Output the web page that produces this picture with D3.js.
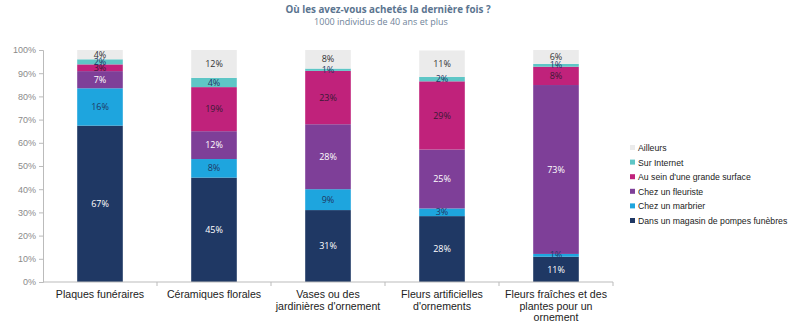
<!DOCTYPE html>
<html>
<head>
<meta charset="utf-8">
<script src="https://cdn.jsdelivr.net/npm/d3@7"></script>
<style>
  body { margin: 0; background: #fff; }
  svg { display: block; }
  .title { font-family: "Open Sans", sans-serif; font-weight: bold; font-size: 9.8px; fill: #5b7590; }
  .subtitle { font-family: "Open Sans", sans-serif; font-size: 9px; fill: #6f8499; }
  .tick text { font-family: "Liberation Sans", Arial, sans-serif; }
  .lbl { font-family: "Open Sans", sans-serif; font-size: 9px; }
  .cat { font-family: "Liberation Sans", Arial, sans-serif; font-size: 10.6px; fill: #222; }
  .legend text { font-family: "Liberation Sans", Arial, sans-serif; font-size: 8.7px; fill: #222; }
</style>
</head>
<body>
<div id="chart"></div>
<script>
// DATA
const categories = [
    ["Plaques funéraires"],
    ["Céramiques florales"],
    ["Vases ou des", "jardinières d'ornement"],
    ["Fleurs artificielles", "d'ornements"],
    ["Fleurs fraîches et des", "plantes pour un", "ornement"]
];
const seriesNames = [
    "Dans un magasin de pompes funèbres",
    "Chez un marbrier",
    "Chez un fleuriste",
    "Au sein d'une grande surface",
    "Sur Internet",
    "Ailleurs"
];
// one array per series, in category order (percent)
const pompes     = [67.4, 45.0, 31.0, 28.4, 10.9];
const marbrier   = [16.1,  8.0,  9.0,  3.3,  1.2];
const fleuriste  = [ 7.4, 12.0, 28.0, 25.4, 72.8];
const grandeSurf = [ 2.9, 19.0, 23.0, 29.4,  7.9];
const internet   = [ 2.2,  4.0,  1.0,  1.9,  1.2];
const ailleurs   = [ 4.0, 12.0,  8.0, 11.4,  6.0];
const yTicks = [0, 10, 20, 30, 40, 50, 60, 70, 80, 90, 100];

const colors = ["#1f3864", "#1ea5de", "#7e3f98", "#c0227b", "#5ec6c6", "#ebebeb"];
const textColors = ["#ffffff", "#1f3864", "#ffffff", "#3a1a35", "#1f3864", "#333333"];

// CHART SETUP
const width = 800, height = 332;
const margin = {left: 43};
const plotRight = 613;

const svg = d3.select("#chart").append("svg")
    .attr("width", width)
    .attr("height", height);

const allSeries = [pompes, marbrier, fleuriste, grandeSurf, internet, ailleurs];
const rows = categories.map((c, i) => {
    const r = {cat: i};
    seriesNames.forEach((s, j) => r[s] = allSeries[j][i]);
    return r;
});
const stacked = d3.stack().keys(seriesNames)(rows);

const x = d3.scaleBand()
    .domain(d3.range(categories.length))
    .range([margin.left, plotRight])
    .paddingInner(0.6)
    .paddingOuter(0.3);

const y = d3.scaleLinear()
    .domain([0, 100])
    .range([282, 50]);

// title
svg.append("text").attr("class", "title")
    .attr("x", 388).attr("y", 13).attr("text-anchor", "middle")
    .text("Où les avez-vous achetés la dernière fois ?");
svg.append("text").attr("class", "subtitle")
    .attr("x", 381).attr("y", 25).attr("text-anchor", "middle")
    .text("1000 individus de 40 ans et plus");

// y axis
const yAxis = svg.append("g")
    .attr("transform", `translate(${margin.left},0)`)
    .call(d3.axisLeft(y).tickValues(yTicks).tickFormat(d => d + "%").tickSize(4).tickPadding(3));
yAxis.select(".domain").attr("stroke", "#bbb");
yAxis.selectAll(".tick line").attr("stroke", "#bbb");
yAxis.selectAll(".tick text").attr("fill", "#8a8a8a").attr("font-size", "9px");

// bars
const layers = svg.append("g").selectAll("g")
    .data(stacked)
    .join("g")
    .attr("fill", (d, i) => colors[i]);

layers.selectAll("rect")
    .data(d => d)
    .join("rect")
    .attr("x", d => x(d.data.cat))
    .attr("width", x.bandwidth())
    .attr("y", d => y(d[1]))
    .attr("height", d => y(d[0]) - y(d[1]));

// value labels
stacked.forEach((layer, i) => {
    svg.append("g").selectAll("text")
        .data(layer)
        .join("text")
        .attr("class", "lbl")
        .attr("x", d => x(d.data.cat) + x.bandwidth() / 2)
        .attr("y", d => (y(d[0]) + y(d[1])) / 2)
        .attr("dy", "0.35em")
        .attr("text-anchor", "middle")
        .attr("fill", textColors[i])
        .text(d => Math.round(d[1] - d[0]) + "%");
});

// x axis
const xAxisG = svg.append("g");
xAxisG.append("line")
    .attr("x1", margin.left).attr("x2", plotRight)
    .attr("y1", y(0)).attr("y2", y(0))
    .attr("stroke", "#bbb");
xAxisG.selectAll(".sep")
    .data(d3.range(1, categories.length + 1))
    .join("line")
    .attr("x1", i => margin.left + i * (plotRight - margin.left) / categories.length)
    .attr("x2", i => margin.left + i * (plotRight - margin.left) / categories.length)
    .attr("y1", y(0)).attr("y2", y(0) + 4)
    .attr("stroke", "#bbb");

const catText = svg.append("g").selectAll("text")
    .data(categories)
    .join("text")
    .attr("class", "cat")
    .attr("text-anchor", "middle")
    .attr("x", (d, i) => x(i) + x.bandwidth() / 2)
    .attr("y", 298);
catText.selectAll("tspan")
    .data(d => d)
    .join("tspan")
    .attr("x", function() { return this.parentNode.getAttribute("x"); })
    .attr("dy", (d, i) => i === 0 ? 0 : 11.7)
    .text(d => d);

// legend (reversed order, top = Ailleurs)
const legend = svg.append("g").attr("class", "legend")
    .attr("transform", "translate(630,148)");
const legItems = legend.selectAll("g")
    .data(seriesNames.map((s, i) => ({name: s, color: colors[i]})).reverse())
    .join("g")
    .attr("transform", (d, i) => `translate(0,${i * 14.6})`);
legItems.append("rect")
    .attr("x", 0).attr("y", -3).attr("width", 5).attr("height", 5)
    .attr("fill", d => d.color);
legItems.append("text")
    .attr("x", 8).attr("dy", "0.35em")
    .text(d => d.name);
</script>
</body>
</html>
